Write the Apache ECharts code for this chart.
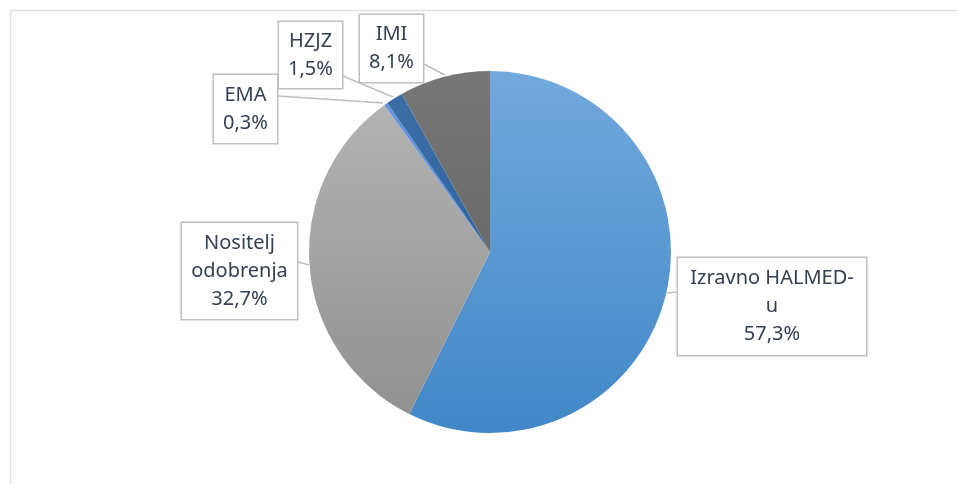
<!DOCTYPE html>
<html>
<head>
<meta charset="utf-8">
<script src="https://cdn.jsdelivr.net/npm/echarts@6/dist/echarts.min.js"></script>
<style>
  html, body { margin: 0; padding: 0; background: #fff; }
  #chart { width: 958px; height: 484px; }
</style>
</head>
<body>
<div id="chart"></div>
<script>
// podaci (udio u %)
const categories = ["Izravno HALMED-u", "Nositelj odobrenja", "EMA", "HZJZ", "IMI"];
const labelNames = ["Izravno HALMED-\nu", "Nositelj\nodobrenja", "EMA", "HZJZ", "IMI"];
const shares = [57.3, 32.7, 0.3, 1.5, 8.1];
// boje: [vrh, dno] gradijenta
const colors = [
  ["#72a9dd", "#4187c7"],
  ["#b7b7b7", "#8f8f8f"],
  ["#6596e0", "#4a80cf"],
  ["#3e6ea6", "#22609f"],
  ["#767676", "#5f5f5f"]
];

// polozaj oblacica (sredina, sirina, visina) i tocka na rubu kruga
const boxes = [
  { cx: 772, cy: 306.5, w: 190, h: 97, tip: [667, 293], at: [677, 292] },
  { cx: 239.5, cy: 271, w: 117, h: 96, tip: [309, 265], at: [298, 262] },
  { cx: 245.5, cy: 109, w: 65, h: 68, tip: [383, 103], at: [278, 96] },
  { cx: 310.5, cy: 55, w: 65, h: 66, tip: [393, 97], at: [343, 76] },
  { cx: 391.5, cy: 48.5, w: 65, h: 67, tip: [445, 75], at: [424, 64] }
];

const cx = 490, cy = 252, r = 181;
const lh = 28;

let myChart = echarts.init(document.getElementById("chart"));

const data = categories.map(function (name, i) {
  const b = boxes[i];
  const lines = labelNames[i].split("\n").length + 1;
  const padV = (b.h - lines * lh) / 2;
  return {
    name: name,
    value: shares[i],
    itemStyle: {
      color: new echarts.graphic.LinearGradient(0, cy - r, 0, cy + r, [
        { offset: 0, color: colors[i][0] },
        { offset: 1, color: colors[i][1] }
      ], true)
    },
    label: {
      width: b.w - 2,
      padding: [padV, 0, padV, 0]
    }
  };
});

myChart.setOption({
  animation: false,
  graphic: [
    { type: "line", shape: { x1: 10, y1: 10.5, x2: 958, y2: 10.5 }, style: { stroke: "#dde1e8", lineWidth: 1.5 } },
    { type: "line", shape: { x1: 10.5, y1: 10, x2: 10.5, y2: 484 }, style: { stroke: "#dde1e8", lineWidth: 1.5 } }
  ],
  series: [
    {
      type: "pie",
      center: [cx, cy],
      radius: r,
      startAngle: 90,
      clockwise: true,
      data: data,
      itemStyle: { borderWidth: 0 },
      label: {
        show: true,
        position: "outside",
        formatter: function (p) {
          return labelNames[p.dataIndex] + "\n" + p.value.toFixed(1).replace(".", ",") + "%";
        },
        fontFamily: "Noto Sans",
        fontSize: 20,
        lineHeight: lh,
        color: "#364050",
        align: "center",
        backgroundColor: "#ffffff",
        borderColor: "#bfbfbf",
        borderWidth: 1.5
      },
      labelLine: {
        show: true,
        lineStyle: { color: "#bfbfbf", width: 1.5 }
      },
      labelLayout: function (params) {
        const b = boxes[params.dataIndex];
        return {
          x: b.cx,
          y: b.cy,
          align: "center",
          verticalAlign: "middle",
          labelLinePoints: [b.tip, b.at, b.at]
        };
      }
    }
  ]
});

window.onresize = myChart.resize;
</script>
</body>
</html>
